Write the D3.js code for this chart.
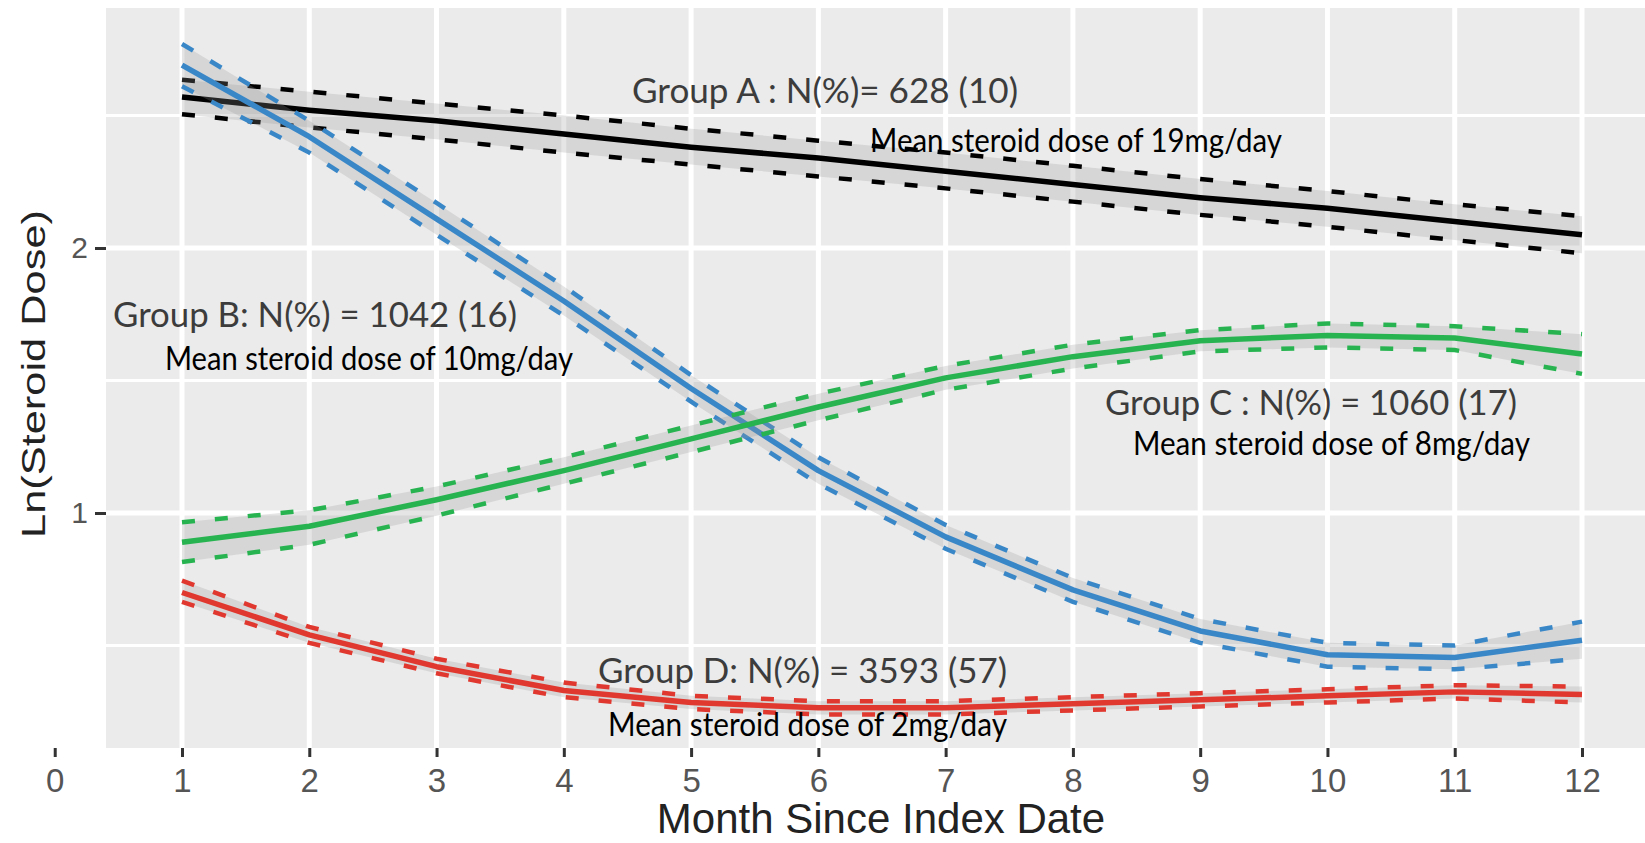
<!DOCTYPE html>
<html>
<head>
<meta charset="utf-8">
<script src="https://cdn.jsdelivr.net/npm/d3@7"></script>
<style>
  body { margin: 0; background: #fff; }
  svg { display: block; }
</style>
</head>
<body>
<div id="chart"></div>
<script>
// months on the x axis
const months = [1, 2, 3, 4, 5, 6, 7, 8, 9, 10, 11, 12];
const xTicks = [0, 1, 2, 3, 4, 5, 6, 7, 8, 9, 10, 11, 12];
const yTicks = [1, 2];

// ln(steroid dose) per group: mean, lower and upper band
const groupA = [2.57, 2.52, 2.48, 2.43, 2.38, 2.34, 2.29, 2.24, 2.19, 2.15, 2.10, 2.05];
const groupALow = [2.505, 2.455, 2.41, 2.36, 2.315, 2.27, 2.225, 2.175, 2.125, 2.08, 2.03, 1.98];
const groupAHigh = [2.635, 2.59, 2.545, 2.50, 2.45, 2.405, 2.36, 2.31, 2.26, 2.215, 2.165, 2.12];

const groupB = [2.69, 2.42, 2.11, 1.80, 1.47, 1.16, 0.91, 0.71, 0.555, 0.465, 0.455, 0.52];
const groupBLow = [2.61, 2.36, 2.05, 1.745, 1.42, 1.11, 0.865, 0.665, 0.51, 0.42, 0.41, 0.45];
const groupBHigh = [2.77, 2.48, 2.17, 1.855, 1.52, 1.21, 0.955, 0.755, 0.60, 0.51, 0.50, 0.59];

const groupC = [0.89, 0.95, 1.05, 1.16, 1.28, 1.40, 1.51, 1.59, 1.65, 1.67, 1.66, 1.60];
const groupCLow = [0.815, 0.88, 0.99, 1.11, 1.23, 1.35, 1.465, 1.545, 1.61, 1.625, 1.615, 1.525];
const groupCHigh = [0.965, 1.01, 1.10, 1.21, 1.33, 1.45, 1.555, 1.635, 1.69, 1.715, 1.705, 1.675];

const groupD = [0.70, 0.54, 0.42, 0.33, 0.285, 0.265, 0.265, 0.28, 0.295, 0.31, 0.325, 0.315];
const groupDLow = [0.665, 0.51, 0.395, 0.305, 0.26, 0.24, 0.24, 0.255, 0.27, 0.285, 0.30, 0.285];
const groupDHigh = [0.745, 0.57, 0.45, 0.36, 0.31, 0.29, 0.29, 0.305, 0.32, 0.335, 0.35, 0.345];

const groupLabels = ["Group A : N(%)= 628 (10)", "Group B: N(%) = 1042 (16)",
                     "Group C : N(%) = 1060 (17)", "Group D: N(%) = 3593 (57)"];
const doseLabels = ["Mean steroid dose of 19mg/day", "Mean steroid dose of 10mg/day",
                    "Mean steroid dose of 8mg/day", "Mean steroid dose of 2mg/day"];

const series = [
    { mean: groupA, low: groupALow, high: groupAHigh, color: "#000000" },
    { mean: groupB, low: groupBLow, high: groupBHigh, color: "#3a87c8" },
    { mean: groupC, low: groupCLow, high: groupCHigh, color: "#27b450" },
    { mean: groupD, low: groupDLow, high: groupDHigh, color: "#e0382e" }
];

// where each label sits, in data units (month, value) + rendered width
const labelPlaces = [
    { g: [4.536, 2.547, 386], d: [6.406, 2.362, 412] },
    { g: [0.458, 1.702, 404], d: [0.866, 1.540, 408] },
    { g: [8.252, 1.370, 412], d: [8.472, 1.219, 397] },
    { g: [4.269, 0.358, 409], d: [4.347, 0.158, 399] }
];

const width = 1645, height = 843;
const panel = { left: 106, right: 1645, top: 8, bottom: 748 };

const svg = d3.select("#chart").append("svg")
    .attr("width", width)
    .attr("height", height);

const x = d3.scaleLinear().domain([1, 12]).range([182, 1582]);
const y = d3.scaleLinear().domain([1, 2]).range([513, 248]);

svg.append("defs").append("clipPath").attr("id", "panelClip")
    .append("rect")
    .attr("x", panel.left).attr("y", panel.top)
    .attr("width", panel.right - panel.left)
    .attr("height", panel.bottom - panel.top);

// panel background
svg.append("rect")
    .attr("x", panel.left).attr("y", panel.top)
    .attr("width", panel.right - panel.left)
    .attr("height", panel.bottom - panel.top)
    .attr("fill", "#ebebeb");

const grid = svg.append("g").attr("clip-path", "url(#panelClip)");

// minor horizontal grid
grid.selectAll(".minorY")
    .data([0.5, 1.5, 2.5])
    .enter().append("line")
    .attr("x1", panel.left).attr("x2", panel.right)
    .attr("y1", d => y(d)).attr("y2", d => y(d))
    .attr("stroke", "#fff").attr("stroke-width", 3);

grid.selectAll(".majorY")
    .data(yTicks)
    .enter().append("line")
    .attr("x1", panel.left).attr("x2", panel.right)
    .attr("y1", d => y(d)).attr("y2", d => y(d))
    .attr("stroke", "#fff").attr("stroke-width", 5);

grid.selectAll(".majorX")
    .data(months)
    .enter().append("line")
    .attr("x1", d => x(d)).attr("x2", d => x(d))
    .attr("y1", panel.top).attr("y2", panel.bottom)
    .attr("stroke", "#fff").attr("stroke-width", 5);

const plot = svg.append("g").attr("clip-path", "url(#panelClip)");

const line = d3.line();
const area = d3.area();

series.forEach(s => {
    const pts = months.map((m, i) => ({ m, mean: s.mean[i], low: s.low[i], high: s.high[i] }));

    plot.append("path")
        .attr("d", area.x(d => x(d.m)).y0(d => y(d.low)).y1(d => y(d.high))(pts))
        .attr("fill", "#999")
        .attr("opacity", 0.25);

    ["low", "high"].forEach(k => {
        plot.append("path")
            .attr("d", line.x(d => x(d.m)).y(d => y(d[k]))(pts))
            .attr("fill", "none")
            .attr("stroke", s.color)
            .attr("stroke-width", 4.5)
            .attr("stroke-dasharray", "13,20");
    });

    plot.append("path")
        .attr("d", line.x(d => x(d.m)).y(d => y(d.mean))(pts))
        .attr("fill", "none")
        .attr("stroke", s.color)
        .attr("stroke-width", 5.5)
        .attr("stroke-linejoin", "round");
});

// axes
const xAxis = svg.append("g")
    .attr("transform", `translate(0, ${panel.bottom})`)
    .call(d3.axisBottom(x).tickValues(xTicks).tickFormat(d3.format("d")).tickSize(9).tickPadding(12));
xAxis.select(".domain").remove();
xAxis.selectAll(".tick line").attr("stroke", "#333").attr("stroke-width", 3);
xAxis.selectAll(".tick text")
    .attr("fill", "#555")
    .style("font-family", "'Liberation Sans', Arial, sans-serif")
    .style("font-size", "33px");

const yAxis = svg.append("g")
    .attr("transform", `translate(${panel.left}, 0)`)
    .call(d3.axisLeft(y).tickValues(yTicks).tickFormat(d3.format("d")).tickSize(11).tickPadding(7));
yAxis.select(".domain").remove();
yAxis.selectAll(".tick line").attr("stroke", "#333").attr("stroke-width", 3);
yAxis.selectAll(".tick text")
    .attr("fill", "#555")
    .style("font-family", "'Liberation Sans', Arial, sans-serif")
    .style("font-size", "30px");

svg.append("text")
    .attr("x", 881).attr("y", 833)
    .attr("text-anchor", "middle")
    .attr("fill", "#222")
    .style("font-family", "'Liberation Sans', Arial, sans-serif")
    .style("font-size", "42px")
    .text("Month Since Index Date");

svg.append("text")
    .attr("transform", "translate(45, 374) rotate(-90)")
    .attr("text-anchor", "middle")
    .attr("fill", "#222")
    .attr("textLength", 328)
    .attr("lengthAdjust", "spacingAndGlyphs")
    .style("font-family", "'Liberation Sans', Arial, sans-serif")
    .style("font-size", "34px")
    .text("Ln(Steroid Dose)");

// annotations
const notes = svg.append("g").style("font-family", "Lato, 'Open Sans', sans-serif");
labelPlaces.forEach((p, i) => {
    notes.append("text")
        .attr("x", x(p.g[0])).attr("y", y(p.g[1]))
        .attr("textLength", p.g[2])
        .attr("lengthAdjust", "spacingAndGlyphs")
        .attr("fill", "#3c3c3c")
        .style("font-size", "34px")
        .text(groupLabels[i]);
    notes.append("text")
        .attr("x", x(p.d[0])).attr("y", y(p.d[1]))
        .attr("textLength", p.d[2])
        .attr("lengthAdjust", "spacingAndGlyphs")
        .attr("fill", "#000")
        .style("font-size", "32px")
        .text(doseLabels[i]);
});
</script>
</body>
</html>
